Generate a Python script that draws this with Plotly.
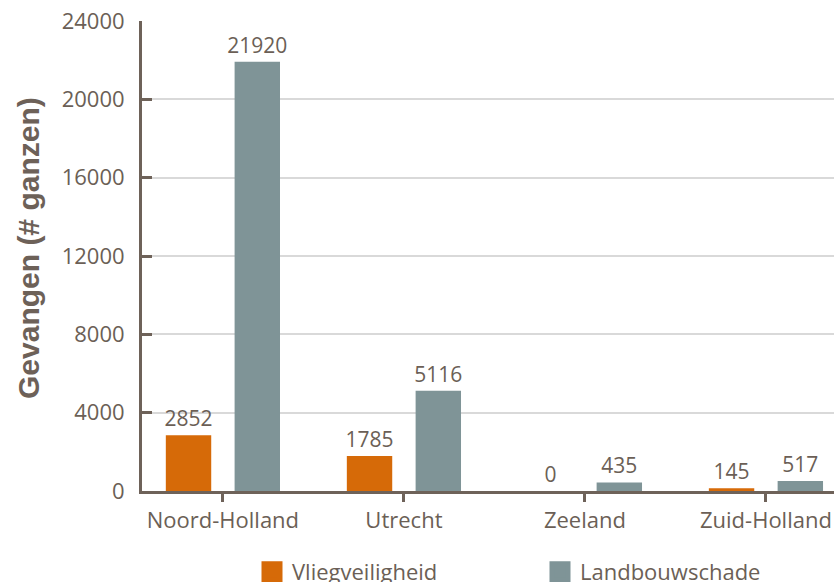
import plotly.graph_objects as go

provinces = ['Noord-Holland', 'Utrecht', 'Zeeland', 'Zuid-Holland']
vliegveiligheid = [2852, 1785, 0, 145]
landbouwschade = [21920, 5116, 435, 517]
y_ticks = [0, 4000, 8000, 12000, 16000, 20000, 24000]
y_labels = [str(v) for v in y_ticks]

TEXT = '#6b5f56'
AXIS = '#6e6259'
ORANGE = '#d66a08'
GREY = '#7f9497'
FONT = 'Open Sans'

W, H = 834, 582
L, T, B = 142, 21, 91

fig = go.Figure()
fig.add_trace(go.Bar(x=provinces, y=vliegveiligheid, name='Vliegveiligheid',
                     marker=dict(color=ORANGE, line=dict(width=0)),
                     text=vliegveiligheid, textposition='outside', cliponaxis=False,
                     constraintext='none', showlegend=False,
                     textfont=dict(size=21, color=TEXT, family=FONT)))
fig.add_trace(go.Bar(x=provinces, y=landbouwschade, name='Landbouwschade',
                     marker=dict(color=GREY, line=dict(width=0)),
                     text=landbouwschade, textposition='outside', cliponaxis=False,
                     constraintext='none', showlegend=False,
                     textfont=dict(size=21, color=TEXT, family=FONT)))
# legend entries with bigger square swatches
for name, col in [('Vliegveiligheid', ORANGE), ('Landbouwschade', GREY)]:
    fig.add_trace(go.Scatter(x=[None], y=[None], mode='markers', name=name,
                             marker=dict(symbol='square', size=16, color=col,
                                         line=dict(width=5, color=col))))

plot_h = H - T - B
fig.update_layout(
    width=W, height=H,
    margin=dict(l=L, r=0, t=T, b=B, autoexpand=False),
    paper_bgcolor='white', plot_bgcolor='white',
    font=dict(family=FONT, size=22, color=TEXT),
    barmode='group', bargap=0.24, bargroupgap=0.34,
    showlegend=True,
    legend=dict(orientation='h', xref='container', yref='container',
                x=252 / W, xanchor='left', y=1 - 572 / H, yanchor='middle',
                entrywidth=243, entrywidthmode='pixels', itemsizing='trace',
                font=dict(size=22, color=TEXT, family=FONT), traceorder='normal'),
    xaxis=dict(range=[-0.447, 3.376], showline=True, linecolor=AXIS, linewidth=3,
               ticks='outside', ticklen=8, tickwidth=3, tickcolor=AXIS,
               automargin=False, ticklabeloverflow='allow',
               tickfont=dict(size=22, color=TEXT), showgrid=False, zeroline=False),
    yaxis=dict(range=[0, 24000], tickvals=y_ticks, ticktext=y_labels,
               showline=True, linecolor=AXIS, linewidth=3,
               ticks='inside', ticklen=10, tickwidth=3, tickcolor=AXIS,
               ticklabelstandoff=10, automargin=False, ticklabeloverflow='allow',
               tickfont=dict(size=22, color=TEXT),
               showgrid=True, gridcolor='#d9d9d9', gridwidth=2, zeroline=False),
    annotations=[dict(text='<b>Gevangen (# ganzen)</b>', textangle=-90,
                      xref='paper', yref='paper', showarrow=False,
                      x=(28 - L) / (W - L), y=(H - B - 248) / plot_h,
                      xanchor='center', yanchor='middle',
                      font=dict(size=30, color='#6d6158', family='Liberation Sans'))],
)

# drop the default body margin so the figure sits in the page corner
fig.write_html('out.html', config={'displayModeBar': False},
               post_script="document.body.style.margin='0';")
